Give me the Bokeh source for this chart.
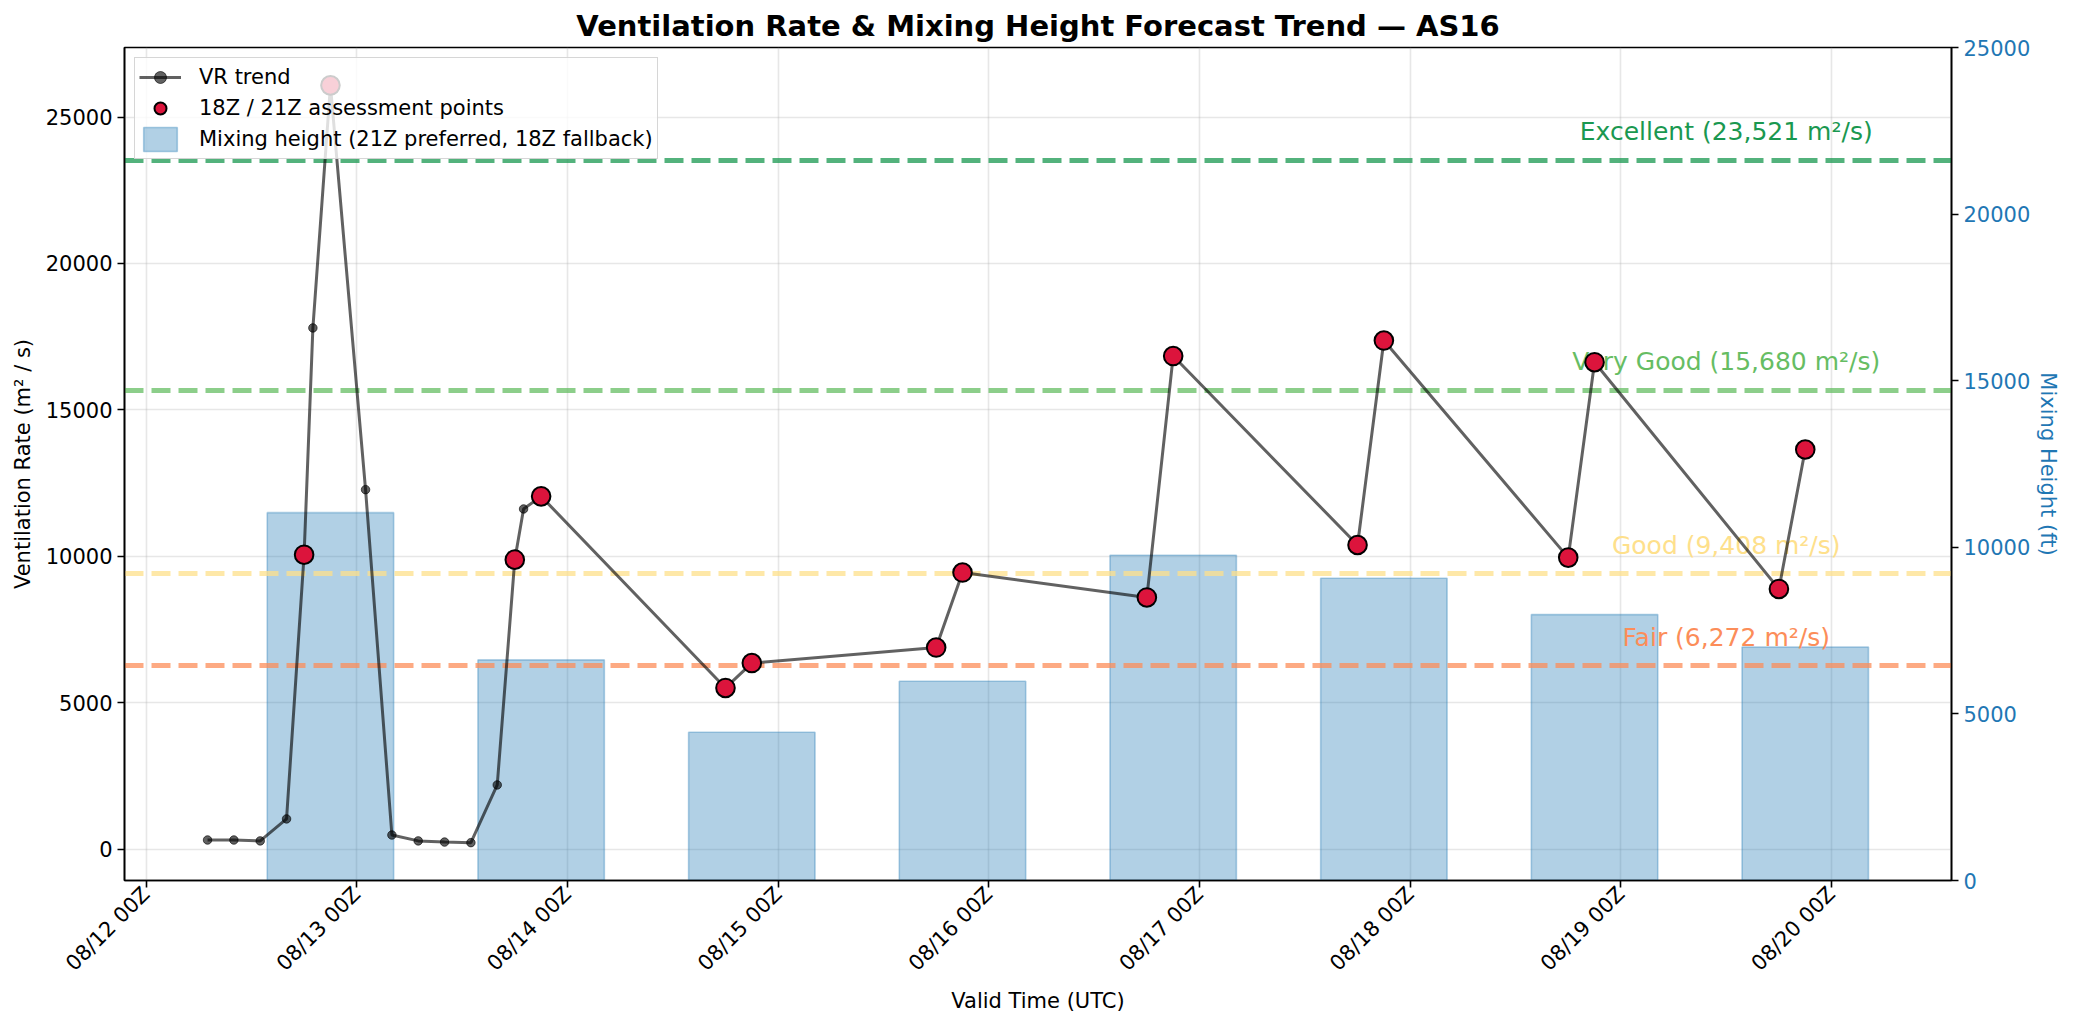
import math
import pandas as pd
from bokeh.plotting import figure
from bokeh.models import (ColumnDataSource, Range1d, LinearAxis, FixedTicker,
                          SingleIntervalTicker, DatetimeTickFormatter, Legend, LegendItem)
from bokeh.core.properties import value
from bokeh.embed import file_html
from bokeh.resources import INLINE

# ventilation rate trend (m2/s), valid times UTC
trend_time = ["2025-08-12 07:00", "2025-08-12 10:00", "2025-08-12 13:00", "2025-08-12 16:00",
              "2025-08-12 18:00", "2025-08-12 19:00", "2025-08-12 21:00",
              "2025-08-13 01:00", "2025-08-13 04:00", "2025-08-13 07:00", "2025-08-13 10:00",
              "2025-08-13 13:00", "2025-08-13 16:00", "2025-08-13 18:00", "2025-08-13 19:00",
              "2025-08-13 21:00",
              "2025-08-14 18:00", "2025-08-14 21:00", "2025-08-15 18:00", "2025-08-15 21:00",
              "2025-08-16 18:00", "2025-08-16 21:00", "2025-08-17 18:00", "2025-08-17 21:00",
              "2025-08-18 18:00", "2025-08-18 21:00", "2025-08-19 18:00", "2025-08-19 21:00"]
trend_vr = [320, 320, 290, 1040, 10060, 17800, 26080,
            12280, 490, 290, 250, 230, 2200, 9890, 11620, 12050,
            5510, 6360, 6890, 9450, 8600, 16840, 10390, 17370, 9960, 16630, 8890, 13650]

# mixing height (ft), one bar per day
mh_time = ["2025-08-12 21:00", "2025-08-13 21:00", "2025-08-14 21:00", "2025-08-15 21:00",
           "2025-08-16 21:00", "2025-08-17 21:00", "2025-08-18 21:00", "2025-08-19 21:00"]
mh_ft = [11040, 6620, 4450, 5980, 9760, 9070, 7980, 7010]

# category thresholds
thr_name = ["Excellent", "Very Good", "Good", "Fair"]
thr_vr = [23521, 15680, 9408, 6272]
thr_color = ["#1a9850", "#66bd63", "#fee08b", "#fc8d59"]

FONT = "DejaVu Sans"
DAY_MS = 86400000.0
BLUE = "#1f77b4"


def ms(ts):
    return ts.value / 1e6


t = pd.to_datetime(trend_time)
tb = pd.to_datetime(mh_time)
sel = t.hour.isin([18, 21])

trend = ColumnDataSource(dict(t=t.to_numpy(), vr=trend_vr))
assess = ColumnDataSource(dict(t=t[sel].to_numpy(),
                               vr=[v for v, s in zip(trend_vr, sel) if s]))
bars = ColumnDataSource(dict(t=tb.to_numpy(), mh=mh_ft))
bar_w = 0.6 * DAY_MS

label_x = t.max().normalize() + pd.Timedelta(hours=12)
thr = ColumnDataSource(dict(
    x=[label_x] * len(thr_vr), y=thr_vr, color=thr_color,
    label=[f"{n} ({v:,} m²/s)" for n, v in zip(thr_name, thr_vr)]))

x_lo = min(ms(t.min()), ms(tb.min()) - bar_w / 2)
x_hi = max(ms(t.max()), ms(tb.max()) + bar_w / 2)
x_pad = 0.05 * (x_hi - x_lo)
y_lo, y_hi = min(trend_vr), max(trend_vr)
y_pad = 0.05 * (y_hi - y_lo)

p = figure(width=2063, height=1016, x_axis_type="datetime",
           x_range=Range1d(x_lo - x_pad, x_hi + x_pad),
           y_range=Range1d(y_lo - y_pad, y_hi + y_pad),
           title="Ventilation Rate & Mixing Height Forecast Trend — AS16",
           output_backend="svg", toolbar_location=None,
           min_border_left=124, min_border_right=105,
           min_border_bottom=135, min_border_top=47)
p.extra_y_ranges = {"mh": Range1d(0, 25000)}

p.title.align = "center"
p.title.text_font = FONT
p.title.text_font_size = "29px"
p.title.text_font_style = "bold"
p.title.text_color = "black"
p.title.standoff = 9

p.outline_line_color = "black"
p.outline_line_width = 1.6
p.background_fill_color = "white"
p.border_fill_color = "white"

# bars on the right axis
bar_r = p.vbar(x="t", top="mh", width=bar_w, bottom=0, source=bars, y_range_name="mh",
               fill_color=BLUE, fill_alpha=0.35, line_color=BLUE, line_alpha=0.35,
               line_width=1.6)

# threshold lines + labels
p.hspan(y="y", source=thr, line_color="color", line_width=5.2, line_alpha=0.75,
        line_dash="19 8")
p.text(x="x", y="y", text="label", source=thr, text_color="color",
       text_font=value(FONT), text_font_size=value("25px"),
       text_align="center", text_baseline="bottom", y_offset=-14)

# trend line and assessment points
line_r = p.line("t", "vr", source=trend, line_color="black", line_alpha=0.62, line_width=3)
dot_r = p.scatter("t", "vr", source=trend, size=8.5, fill_color="black", fill_alpha=0.62,
                  line_color="black", line_alpha=0.62)
pt_r = p.scatter("t", "vr", source=assess, size=18.6, fill_color="crimson",
                 line_color="black", line_width=2)

# axes
p.xaxis.ticker = FixedTicker(ticks=[ms(d) for d in pd.date_range(
    t.min().normalize(), tb.max().normalize() + pd.Timedelta(days=1), freq="D")])
fmt = "%m/%d %HZ"
p.xaxis.formatter = DatetimeTickFormatter(milliseconds=fmt, seconds=fmt, minsec=fmt,
                                          minutes=fmt, hourmin=fmt, hours=fmt, days=fmt,
                                          months=fmt, years=fmt)
p.xaxis.major_label_orientation = math.pi / 4
p.xaxis.axis_label = "Valid Time (UTC)"
p.yaxis.ticker = SingleIntervalTicker(interval=5000)
p.yaxis.axis_label = "Ventilation Rate (m² / s)"

right = LinearAxis(y_range_name="mh", axis_label="Mixing Height (ft)",
                   ticker=SingleIntervalTicker(interval=5000))
p.add_layout(right, "right")

for ax in p.xaxis + p.yaxis + [right]:
    ax.axis_line_color = "black"
    ax.axis_line_width = 1.6
    ax.major_tick_line_color = "black"
    ax.major_tick_line_width = 1.6
    ax.major_tick_out = 7
    ax.major_tick_in = 0
    ax.minor_tick_line_color = None
    ax.major_label_text_font = FONT
    ax.major_label_text_font_size = "21px"
    ax.major_label_text_color = "black"
    ax.major_label_standoff = 5
    ax.axis_label_text_font = FONT
    ax.axis_label_text_font_size = "21px"
    ax.axis_label_text_font_style = "normal"
    ax.axis_label_text_color = "black"
    ax.axis_label_standoff = 8

p.xaxis.major_label_standoff = 3
p.xaxis.axis_label_standoff = 2
right.major_label_text_color = BLUE
right.axis_label_text_color = BLUE
right.axis_label_standoff = 3

p.xgrid.grid_line_color = "#b0b0b0"
p.xgrid.grid_line_alpha = 0.3
p.xgrid.grid_line_width = 1.6
p.ygrid.grid_line_color = "#b0b0b0"
p.ygrid.grid_line_alpha = 0.3
p.ygrid.grid_line_width = 1.6

legend = Legend(items=[
    LegendItem(label="VR trend", renderers=[line_r, dot_r]),
    LegendItem(label="18Z / 21Z assessment points", renderers=[pt_r]),
    LegendItem(label="Mixing height (21Z preferred, 18Z fallback)", renderers=[bar_r]),
], location="top_left")
legend.label_text_font = FONT
legend.label_text_font_size = "21px"
legend.label_text_color = "black"
legend.glyph_width = 42
legend.glyph_height = 30
legend.label_height = 30
legend.spacing = 1
legend.padding = 4
legend.margin = 10
legend.label_standoff = 18
legend.background_fill_alpha = 0.8
legend.border_line_color = "#cccccc"
legend.border_line_alpha = 0.8
p.add_layout(legend)

open("out.html", "w").write(file_html(p, INLINE))
